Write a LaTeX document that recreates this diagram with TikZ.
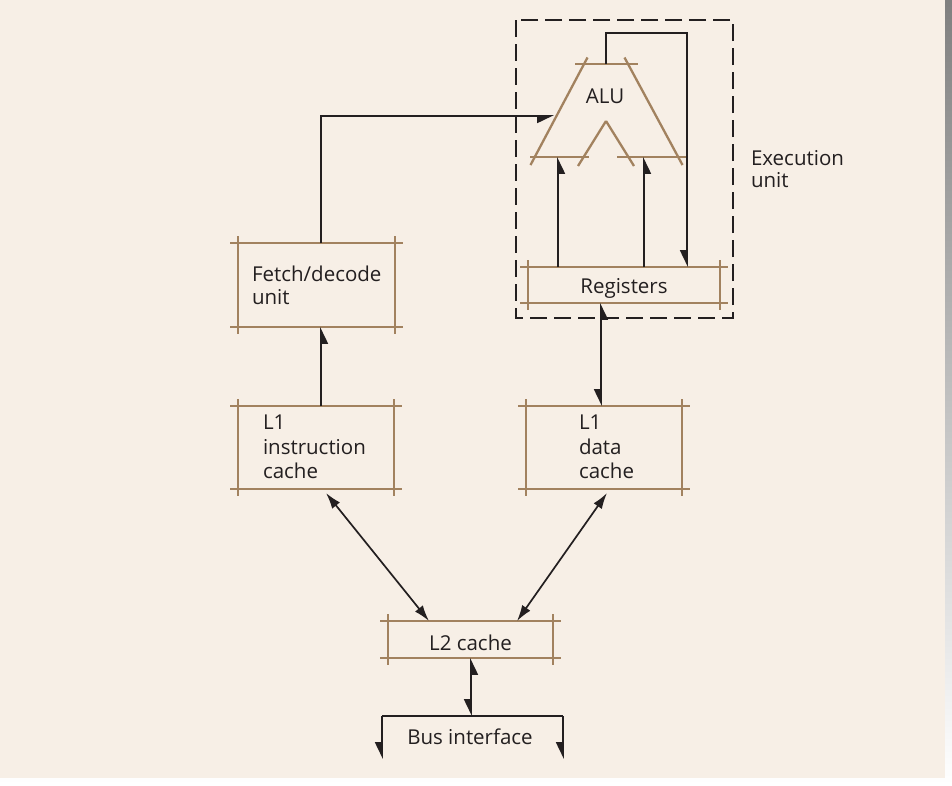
\documentclass[tikz,border=0pt]{standalone}
\usepackage{fontspec}
\setmainfont{Open Sans}
\usetikzlibrary{arrows.meta,calc}
\definecolor{paper}{HTML}{F7EFE6}
\definecolor{shade}{HTML}{ECECEC}
\definecolor{brownln}{HTML}{A2825F}
\definecolor{ink}{HTML}{231F20}
\tikzset{
  brownline/.style={draw=brownln, line width=2.3pt, line cap=butt},
  boxnode/.style={inner sep=0pt, outer sep=0pt},
  lbl/.style={inner sep=0pt, outer sep=0pt, text=ink, font=\fontsize{20.5}{24}\selectfont, align=left},
  conn/.style={draw=ink, line width=1.7pt},
  hup/.style={conn, -{Triangle[length=15pt,width=14pt,harpoon,swap]}},
  hboth/.style={conn, {Triangle[length=15pt,width=14pt,harpoon,swap]}-{Triangle[length=15pt,width=14pt,harpoon,swap]}},
  fboth/.style={conn, {Latex[length=16pt,width=10pt]}-{Latex[length=16pt,width=10pt]}},
}
\newcommand{\skbox}[1]{%
  \draw[brownline] ($(#1.north west)+(-8,0)$) -- ($(#1.north east)+(8,0)$);
  \draw[brownline] ($(#1.south west)+(-8,0)$) -- ($(#1.south east)+(8,0)$);
  \draw[brownline] ($(#1.north west)+(0,-7)$) -- ($(#1.south west)+(0,7)$);
  \draw[brownline] ($(#1.north east)+(0,-7)$) -- ($(#1.south east)+(0,7)$);
}
\begin{document}
\begin{tikzpicture}[x=1pt,y=-1pt]
\useasboundingbox (0,0) rectangle (952,785);
\fill[shade] (0,0) rectangle (952,785);
\fill[paper] (0,0) rectangle (945,778);

% boxes
\node[boxnode, minimum width=157pt, minimum height=84pt] (fetch) at (316.5,285) {};
\node[boxnode, minimum width=156pt, minimum height=83pt] (l1i) at (316,447.5) {};
\node[boxnode, minimum width=156pt, minimum height=83pt] (l1d) at (604,447.5) {};
\node[boxnode, minimum width=192pt, minimum height=36pt] (reg) at (624,285) {};
\node[boxnode, minimum width=165pt, minimum height=37pt] (l2) at (470.5,639.5) {};
\skbox{fetch}\skbox{l1i}\skbox{l1d}\skbox{reg}\skbox{l2}

% ALU shape
\draw[brownline] (575,64) -- (638,64);
\draw[brownline] (587.5,57.5) -- (530.5,165);
\draw[brownline] (624.5,57.5) -- (682.5,165);
\draw[brownline] (530,157) -- (589,157);
\draw[brownline] (617,157) -- (688,157);
\draw[brownline] (606,121) -- (578,166);
\draw[brownline] (606,121) -- (634,166);

% texts
\node[lbl, anchor=base] (alut) at (605,103) {ALU};
\node[lbl, anchor=base] (regt) at (624,293) {Registers};
\node[lbl, anchor=base] (l2t) at (470.5,650) {L2 cache};
\node[lbl, anchor=base] (bust) at (470,744) {Bus interface};
\node[lbl, anchor=base west] (fetcht1) at (252,281) {Fetch/decode};
\node[lbl, anchor=base west] (fetcht2) at (252,304) {unit};
\node[lbl, anchor=base west] (l1it1) at (263,429) {L1};
\node[lbl, anchor=base west] (l1it2) at (263,454) {instruction};
\node[lbl, anchor=base west] (l1it3) at (263,478) {cache};
\node[lbl, anchor=base west] (l1dt1) at (579,429) {L1};
\node[lbl, anchor=base west] (l1dt2) at (579,454) {data};
\node[lbl, anchor=base west] (l1dt3) at (579,478) {cache};
\node[lbl, anchor=base west] (ex1) at (751,165) {Execution};
\node[lbl, anchor=base west] (ex2) at (751,187) {unit};

% execution unit boundary
\draw[draw=ink, line width=1.6pt, dash pattern=on 17pt off 7pt] (516,20) rectangle (733,318);

% coordinates
\coordinate (alutop) at (606,64);
\coordinate (aluleft) at (554,116);
\coordinate (aluin1) at (558,157);
\coordinate (aluin2) at (644,157);
\coordinate (fb) at (687,33);
\coordinate (fx) at (321,0);
\coordinate (dx) at (601,0);
\coordinate (bx) at (471,0);
\coordinate (l1ia) at (326,493);
\coordinate (l2a) at (429,621);
\coordinate (l1da) at (607,493);
\coordinate (l2b) at (517,621);
\coordinate (busl) at (382,716);
\coordinate (busr) at (563,716);

% connectors
\draw[hup] (fx |- fetch.north) |- (aluleft);
\draw[hup] (fx |- l1i.north) -- (fx |- fetch.south);
\draw[hup] (alutop) |- (fb) -- (fb |- reg.north);
\draw[hup] (aluin1 |- reg.north) -- (aluin1);
\draw[hup] (aluin2 |- reg.north) -- (aluin2);
\draw[hboth] (dx |- reg.south) -- (dx |- l1d.north);
\draw[fboth] (l1ia) -- (l2a);
\draw[fboth] (l1da) -- (l2b);
\draw[hboth] (bx |- l2.south) -- (bx |- busl);
\draw[conn] (busl) -- (busr);
\draw[hup] (busl) -- ++(0,43);
\draw[hup] (busr) -- ++(0,43);
\end{tikzpicture}
\end{document}
